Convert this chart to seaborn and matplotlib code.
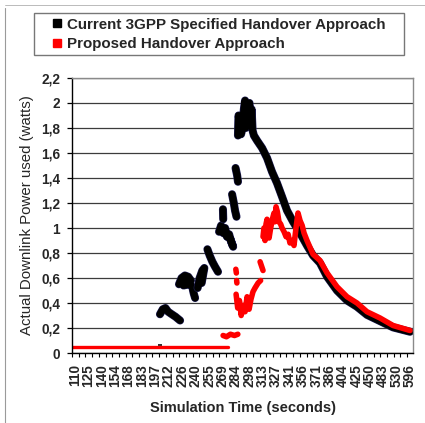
import numpy as np
import pandas as pd
import matplotlib
matplotlib.use("Agg")
import matplotlib.pyplot as plt
import matplotlib.patheffects as pe
from matplotlib.lines import Line2D
import seaborn as sns

# ---------------- data ----------------
# x positions are category positions (10 units between labelled categories)
x_tick_pos = [0, 10, 20, 30, 40, 50, 60, 70, 80, 90, 100, 110, 120, 130, 140,
              150, 160, 170, 180, 190, 200, 210, 220, 230, 240, 250]
x_tick_labels = ["110", "125", "140", "154", "168", "183", "197", "212", "226",
                 "240", "255", "269", "284", "298", "313", "327", "341", "356",
                 "371", "386", "404", "425", "450", "483", "530", "596"]
y_tick_vals = [0, 0.2, 0.4, 0.6, 0.8, 1.0, 1.2, 1.4, 1.6, 1.8, 2.0, 2.2]
y_tick_labels = ["0", "0,2", "0,4", "0,6", "0,8", "1", "1,2", "1,4", "1,6",
                 "1,8", "2", "2,2"]

series_names = ["Current 3GPP Specified Handover Approach",
                "Proposed Handover Approach"]

# Current 3GPP approach (black): runs of consecutive samples
cur_pos = [
    [-2.2, 62],
    [63.4, 65.5, 67.5, 69.5, 72.2, 75, 78.4],
    [77.6, 79.5, 82, 84.5, 86.5, 85, 81, 83, 87.5, 88.5, 89.6],
    [91.5, 93, 95, 96.5, 94.5],
    [98.8, 100.5, 102.5, 104.5, 106.7],
    [107.5, 109, 110.5, 112, 113.5, 115, 116.5, 118, 116, 113, 110],
    [110.4, 110.6],
    [117.2, 118.5, 119.4, 120.5],
    [119.8, 121, 121.6],
    [121.6, 122, 123, 123.9, 125, 126, 126.9, 127.4, 128.5, 129.3, 130.2,
     131, 131.8, 132.5, 133.5, 135.8, 139.6, 143.3, 147.0, 150.7, 154.5,
     158.2, 162.7, 167.9, 173.1, 177.6, 182.8, 188.1, 195.5, 203.0, 210.4,
     217.9, 227.6, 237.3, 250],
]
cur_val = [
    [0.045, 0.045],
    [0.31, 0.35, 0.36, 0.33, 0.31, 0.29, 0.26],
    [0.55, 0.60, 0.62, 0.61, 0.58, 0.55, 0.54, 0.57, 0.53, 0.48, 0.44],
    [0.52, 0.60, 0.66, 0.68, 0.56],
    [0.83, 0.78, 0.73, 0.69, 0.65],
    [0.97, 1.02, 0.96, 1.00, 0.93, 0.95, 0.89, 0.85, 0.91, 0.94, 0.98],
    [1.15, 1.07],
    [1.27, 1.20, 1.14, 1.09],
    [1.48, 1.42, 1.37],
    [1.74, 1.90, 1.86, 1.75, 1.80, 1.95, 2.02, 1.80, 1.85, 1.98, 2.00,
     1.82, 1.95, 1.78, 1.74, 1.70, 1.64, 1.56, 1.45, 1.36, 1.25,
     1.14, 1.05, 0.96, 0.86, 0.78, 0.72, 0.61, 0.50, 0.42, 0.37,
     0.305, 0.255, 0.205, 0.17],
]

# Proposed approach (red)
prop_pos = [
    [-2.2, 114.2],
    [110.5, 113, 116, 119, 121.5],
    [120.0, 120.4],
    [120.6, 120.8],
    [120.2, 121.4, 122.7, 124, 125.4, 126.9, 128.4, 129.9, 131.3, 132.8,
     134.3, 136.6, 138.5],
    [138.1, 140.3],
    [140.3, 141, 141.8, 142.5, 143.3, 144, 144.8, 146, 147.5, 148.5, 149.2,
     150, 151, 152.2, 153.5, 154.5, 156, 157.5, 159, 160.4, 162, 163.4,
     164.9, 166.4, 167.9, 169.5, 170.9, 173.1, 177.6, 182.8, 188.1,
     195.5, 203, 210.4, 217.9, 227.6, 237.3, 250],
]
prop_val = [
    [0.045, 0.045],
    [0.14, 0.13, 0.15, 0.14, 0.15],
    [0.67, 0.64],
    [0.58, 0.56],
    [0.47, 0.36, 0.42, 0.30, 0.38, 0.33, 0.45, 0.35, 0.43, 0.49,
     0.52, 0.56, 0.58],
    [0.73, 0.66],
    [0.93, 1.00, 0.90, 1.03, 1.07, 0.95, 0.92, 1.00, 1.08, 1.12, 1.05,
     1.17, 1.13, 1.05, 1.03, 1.00, 0.97, 0.93, 0.95, 0.88, 0.90, 0.86,
     1.00, 1.12, 1.06, 1.02, 0.96, 0.90, 0.79, 0.74, 0.64,
     0.53, 0.45, 0.40, 0.33, 0.28, 0.22, 0.18],
]

# single visible black sample sitting on the red baseline
dot_pos = [63.4]
dot_val = [0.058]


def to_frame(pos_runs, val_runs):
    rows = []
    for i, (ps, vs) in enumerate(zip(pos_runs, val_runs)):
        for p, v in zip(ps, vs):
            rows.append((p, v, i))
    return pd.DataFrame(rows, columns=["pos", "power", "seg"])


cur_df = to_frame(cur_pos, cur_val)
prop_df = to_frame(prop_pos, prop_val)

# ---------------- figure ----------------
sns.set_theme(style="white")
plt.rcParams["font.family"] = ["Liberation Sans", "DejaVu Sans"]

W, H = 425, 423
fig = plt.figure(figsize=(W / 100, H / 100), dpi=100)
fig.patch.set_facecolor("white")
ax = fig.add_axes([72 / W, 1 - 353 / H, (413 - 72) / W, (353 - 78) / H])

navy = [pe.Stroke(linewidth=5.8, foreground="#20205a"), pe.Normal()]

sns.lineplot(data=cur_df[cur_df.seg == 0], x="pos", y="power", units="seg",
             estimator=None, sort=False, color="black", lw=2.0, ax=ax,
             legend=False)
sns.lineplot(data=cur_df[cur_df.seg > 0], x="pos", y="power", units="seg",
             estimator=None, sort=False, color="black", lw=5.0, ax=ax,
             legend=False, path_effects=navy, solid_capstyle="round",
             solid_joinstyle="round")
sns.lineplot(data=prop_df[prop_df.seg == 0], x="pos", y="power", units="seg",
             estimator=None, sort=False, color="#ff0000", lw=2.4, ax=ax,
             legend=False)
sns.lineplot(data=prop_df[prop_df.seg > 0], x="pos", y="power", units="seg",
             estimator=None, sort=False, color="#ff0000", lw=4.0, ax=ax,
             legend=False, solid_capstyle="round", solid_joinstyle="round")
sns.scatterplot(x=dot_pos, y=dot_val, color="#333333", s=5, marker="s",
                linewidth=0, ax=ax, legend=False)

ax.set_xlim(-2.24, 252.2)
ax.set_ylim(0, 2.2)

# y axis
ax.set_yticks(y_tick_vals)
ax.set_yticklabels(y_tick_labels, fontsize=9.8, fontweight="bold")
ax.tick_params(axis="y", which="major", direction="out", length=3.6,
               width=0.9, color="black", pad=5.0, left=True)
ax.yaxis.grid(True, color="#3c3c3c", lw=0.9)
ax.xaxis.grid(False)
ax.set_axisbelow(True)

# x axis (category axis)
ax.set_xticks(x_tick_pos)
ax.set_xticklabels(x_tick_labels, rotation=90, fontsize=9.8,
                   fontweight="bold")
ax.set_xticks(np.arange(-2.24, 250, 5.0), minor=True)
ax.tick_params(axis="x", which="major", length=0, pad=8, bottom=True)
ax.tick_params(axis="x", which="minor", direction="out", length=3.2,
               width=0.8, color="black", bottom=True)

for side in ["left", "bottom"]:
    ax.spines[side].set_color("black")
    ax.spines[side].set_linewidth(1.0)
for side in ["top", "right"]:
    ax.spines[side].set_color("#8a8a8a")
    ax.spines[side].set_linewidth(1.0)

ax.set_xlabel("Simulation Time (seconds)", fontsize=10.5, fontweight="bold",
              labelpad=10)
ax.set_ylabel("Actual Downlink Power used (watts)", fontsize=10.8,
              labelpad=5)

# legend
handles = [Line2D([], [], marker="s", ls="none", color="black",
                  markersize=6.2),
           Line2D([], [], marker="s", ls="none", color="#ff0000",
                  markersize=6.2)]
leg = fig.legend(handles, series_names, loc="upper left",
                 bbox_to_anchor=(34 / W, 1 - 13 / H, 370 / W, 0.0),
                 mode="expand", frameon=True, fancybox=False,
                 prop={"size": 10.9, "weight": "bold"}, handlelength=2.4,
                 handletextpad=-0.55, borderpad=0.3, labelspacing=0.35,
                 borderaxespad=0)
leg.get_frame().set_edgecolor("#555555")
leg.get_frame().set_linewidth(1.0)

# surrounding frame lines of the original screenshot
fig.add_artist(Line2D([5 / W, 5 / W], [0, 1 - 8 / H], transform=fig.transFigure,
                      color="#9a9a9a", lw=0.8))
fig.add_artist(Line2D([5 / W, 1], [1 - 5 / H, 1 - 5 / H],
                      transform=fig.transFigure, color="#b0b0b0", lw=0.6))

fig.savefig("out.png", dpi=100, facecolor="white")
